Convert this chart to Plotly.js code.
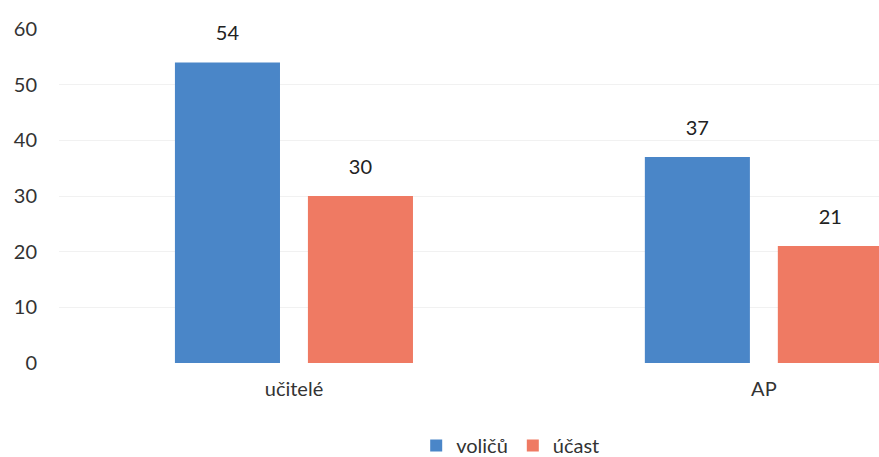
<!DOCTYPE html>
<html>
<head>
<meta charset="utf-8">
<script src="https://cdn.plot.ly/plotly-3.0.1.min.js"></script>
<style>html,body{margin:0;padding:0;background:#fff;}#chart{width:879px;height:457px;}</style>
</head>
<body>
<div id="chart"></div>
<script>
const categories = ["učitelé", "AP"];
const seriesNames = ["voličů", "účast"];
const volicu = [54, 37];
const ucast = [30, 21];
const yTicks = [0, 10, 20, 30, 40, 50, 60];

const fam = "Lato, 'Open Sans', sans-serif";
const colors = ["#4a86c8", "#ef7a63"];
const series = [volicu, ucast];

const traces = [];
series.forEach((vals, i) => {
  traces.push({type: "bar", name: seriesNames[i], x: categories, y: vals,
    offsetgroup: "g" + i, alignmentgroup: "a", marker: {color: colors[i]}});
});
series.forEach((vals, i) => {
  traces.push({type: "scatter", mode: "markers+text", x: categories, y: vals,
    text: vals.map(String), textposition: "top center", cliponaxis: false,
    offsetgroup: "g" + i, alignmentgroup: "a", showlegend: false, hoverinfo: "skip",
    marker: {size: 26, opacity: 0, color: colors[i]},
    textfont: {family: fam, size: 20, color: "#222"}});
});

const layout = {
  width: 879, height: 457,
  margin: {l: 59, r: 0, t: 29, b: 94},
  paper_bgcolor: "#fff", plot_bgcolor: "#fff",
  font: {family: fam, size: 20, color: "#333"},
  barmode: "group", scattermode: "group", bargap: 0.434, bargroupgap: 0.21,
  xaxis: {type: "category", range: [-0.5, 1.245], showgrid: false, zeroline: false, showline: false,
          ticks: "", tickfont: {family: fam, size: 20, color: "#333"}, ticklabelstandoff: 12},
  yaxis: {range: [0, 60], tickvals: yTicks, showgrid: true, gridcolor: "#f1f1f1", gridwidth: 1,
          zeroline: false, showline: false, ticks: "", ticklabelstandoff: 21,
          tickfont: {family: fam, size: 20, color: "#333"}},
  showlegend: true,
  legend: {orientation: "h", xref: "container", yref: "container", x: 0.581, xanchor: "center",
           y: 0.025, yanchor: "middle", font: {family: fam, size: 20, color: "#333"},
           itemwidth: 30, tracegroupgap: 0}
};

Plotly.newPlot("chart", traces, layout, {displayModeBar: false, staticPlot: true});
</script>
</body>
</html>
